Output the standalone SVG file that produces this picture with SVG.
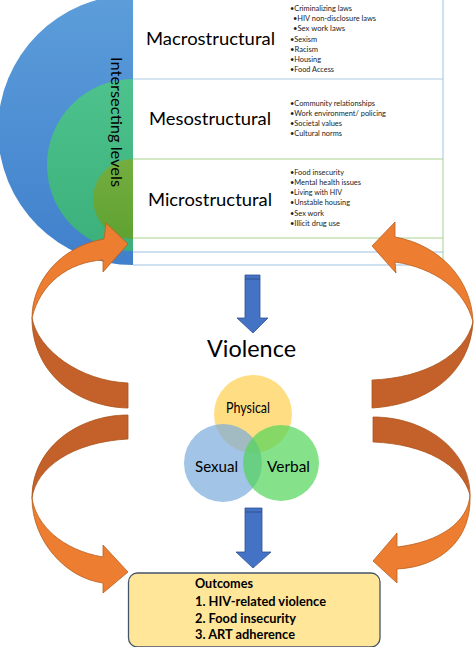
<svg xmlns="http://www.w3.org/2000/svg" width="474" height="647" viewBox="0 0 474 647">
<defs>
<linearGradient id="gBlue" x1="0" y1="0" x2="0" y2="1"><stop offset="0" stop-color="#5C9DDA"/><stop offset="1" stop-color="#4080CC"/></linearGradient>
<linearGradient id="gGreen" x1="0" y1="0" x2="0" y2="1"><stop offset="0" stop-color="#4EC28C"/><stop offset="1" stop-color="#3BB07A"/></linearGradient>
<linearGradient id="gOlive" x1="0" y1="0" x2="0" y2="1"><stop offset="0" stop-color="#74AE40"/><stop offset="1" stop-color="#5FA231"/></linearGradient>
</defs>
<style>
.t{font-family:Lato,"Liberation Sans",sans-serif;fill:#000}
.lvl{font-size:18px}
.b{font-size:7.5px;fill:#222}
.v{font-size:15px}
.o{font-size:13px;font-weight:bold}
.ol{fill:#ED7D31;stroke:#B9611F;stroke-width:0.8}
.od{fill:#C4612A;stroke:#A9541C;stroke-width:0.8}
.ba{fill:#4472C4;stroke:#2F528F;stroke-width:0.8}
</style>
<rect width="474" height="647" fill="#fff"/>
<g id="levels">
<circle cx="133" cy="130" r="135" fill="url(#gBlue)"/>
<circle cx="133" cy="165" r="86" fill="url(#gGreen)"/>
<circle cx="133" cy="199" r="40" fill="url(#gOlive)"/>
<text class="t" font-size="15" transform="translate(111,57) rotate(90)" textLength="130" lengthAdjust="spacingAndGlyphs" fill="#1a1a1a">Intersecting levels</text>
</g>
<g id="table">
<rect x="133" y="0" width="310" height="265" fill="#fff"/>
<line x1="443" y1="0" x2="443" y2="159" stroke="#9DC3E6" stroke-width="1"/>
<line x1="443" y1="159" x2="443" y2="265" stroke="#A9D18E" stroke-width="1"/>
<line x1="133" y1="79" x2="443" y2="79" stroke="#A9CCE3" stroke-width="1"/>
<line x1="133" y1="159" x2="443" y2="159" stroke="#A9D18E" stroke-width="1"/>
<line x1="133" y1="238" x2="443" y2="238" stroke="#A9D18E" stroke-width="1"/>
<line x1="133" y1="252" x2="443" y2="252" stroke="#9DC3E6" stroke-width="1"/>
<line x1="133" y1="265" x2="443" y2="265" stroke="#9DC3E6" stroke-width="1"/>
</g>
<g id="macro">
<text class="t lvl" x="146" y="45" textLength="129" lengthAdjust="spacingAndGlyphs">Macrostructural</text>
<text class="t b" x="290" y="11" textLength="62" lengthAdjust="spacingAndGlyphs">•Criminalizing laws</text>
<text class="t b" x="293" y="21" textLength="83" lengthAdjust="spacingAndGlyphs">•HIV non-disclosure laws</text>
<text class="t b" x="293" y="31" textLength="52" lengthAdjust="spacingAndGlyphs">•Sex work laws</text>
<text class="t b" x="290" y="42" textLength="27" lengthAdjust="spacingAndGlyphs">•Sexism</text>
<text class="t b" x="290" y="52" textLength="28" lengthAdjust="spacingAndGlyphs">•Racism</text>
<text class="t b" x="290" y="62" textLength="31" lengthAdjust="spacingAndGlyphs">•Housing</text>
<text class="t b" x="290" y="72" textLength="44" lengthAdjust="spacingAndGlyphs">•Food Access</text>
</g>
<g id="meso">
<text class="t lvl" x="149" y="125" textLength="122" lengthAdjust="spacingAndGlyphs">Mesostructural</text>
<text class="t b" x="290" y="106" textLength="85" lengthAdjust="spacingAndGlyphs">•Community relationships</text>
<text class="t b" x="290" y="116" textLength="96" lengthAdjust="spacingAndGlyphs">•Work environment/ policing</text>
<text class="t b" x="290" y="126" textLength="52" lengthAdjust="spacingAndGlyphs">•Societal values</text>
<text class="t b" x="290" y="136" textLength="52" lengthAdjust="spacingAndGlyphs">•Cultural norms</text>
</g>
<g id="micro">
<text class="t lvl" x="148" y="206" textLength="124" lengthAdjust="spacingAndGlyphs">Microstructural</text>
<text class="t b" x="290" y="175" textLength="54" lengthAdjust="spacingAndGlyphs">•Food insecurity</text>
<text class="t b" x="290" y="185" textLength="71" lengthAdjust="spacingAndGlyphs">•Mental health issues</text>
<text class="t b" x="290" y="195" textLength="52" lengthAdjust="spacingAndGlyphs">•Living with HIV</text>
<text class="t b" x="290" y="205" textLength="60" lengthAdjust="spacingAndGlyphs">•Unstable housing</text>
<text class="t b" x="290" y="216" textLength="34" lengthAdjust="spacingAndGlyphs">•Sex work</text>
<text class="t b" x="290" y="226" textLength="50" lengthAdjust="spacingAndGlyphs">•Illicit drug use</text>
</g>
<g id="violence">
<text class="t" font-size="23" x="207" y="357" textLength="89" lengthAdjust="spacingAndGlyphs">Violence</text>
</g>
<g id="venn">
<circle cx="253" cy="414" r="39" fill="#FDCE4F" fill-opacity="0.7"/>
<circle cx="223" cy="463" r="39" fill="#7AABDB" fill-opacity="0.7"/>
<circle cx="281" cy="463" r="38" fill="#51D658" fill-opacity="0.7"/>
<text class="t v" x="226" y="413" textLength="44" lengthAdjust="spacingAndGlyphs">Physical</text>
<text class="t v" x="195" y="472" textLength="43" lengthAdjust="spacingAndGlyphs">Sexual</text>
<text class="t v" x="267" y="472" textLength="43" lengthAdjust="spacingAndGlyphs">Verbal</text>
</g>
<g id="outcomes">
<rect x="128.5" y="573" width="251.5" height="74" rx="9" fill="#FFE699" stroke="#44546A" stroke-width="1.3"/>
<text class="t o" x="195" y="588" textLength="58" lengthAdjust="spacingAndGlyphs">Outcomes</text>
<text class="t o" x="195" y="606" textLength="131" lengthAdjust="spacingAndGlyphs">1. HIV-related violence</text>
<text class="t o" x="195" y="623" textLength="101" lengthAdjust="spacingAndGlyphs">2. Food insecurity</text>
<text class="t o" x="195" y="639" textLength="100" lengthAdjust="spacingAndGlyphs">3. ART adherence</text>
</g>
<g id="connectors">
<path class="ba" d="M245,275 L260,275 L260,318 L268,318 L253,333 L237,318 L245,318 Z"/>
<line x1="245" y1="279" x2="260" y2="279" stroke="#2F528F" stroke-width="1"/>
<path class="ba" d="M245,508 L262,508 L262,552 L271,552 L253,568 L236,552 L245,552 Z"/>
<line x1="245" y1="512" x2="262" y2="512" stroke="#2F528F" stroke-width="1"/>
<path class="od" d="M128,383 L128,408 C78,407 32,374 32,318 C38,350 80,381 128,383 Z"/>
<path class="ol" d="M32,318 C32,280 62,246 104,239 L106,223 L128,244 L103,272 L103,260 C68,262 40,284 32,318 Z"/>
<path class="od" d="M128,415 C78,415 32,448 32,498 C36,468 72,442 128,439 Z"/>
<path class="ol" d="M32,498 C36,525 62,550 103,557 L103,545 L128,572 L103,593 L103,583 C65,578 32,540 32,498 Z"/>
<path class="od" d="M372,380 L372,408 C425,405 470,375 473,322 C465,355 425,378 372,380 Z"/>
<path class="ol" d="M473,322 C472,280 440,245 395,237 L395,222 L372,246 L396,273 L395,262 C435,268 465,290 473,322 Z"/>
<path class="od" d="M373,417 C425,417 470,450 470,495 C462,465 425,444 373,442 Z"/>
<path class="ol" d="M470,495 C468,522 440,542 397,547 L397,533 L373,561 L397,583 L397,569 C440,567 472,540 470,495 Z"/>
</g>
</svg>
